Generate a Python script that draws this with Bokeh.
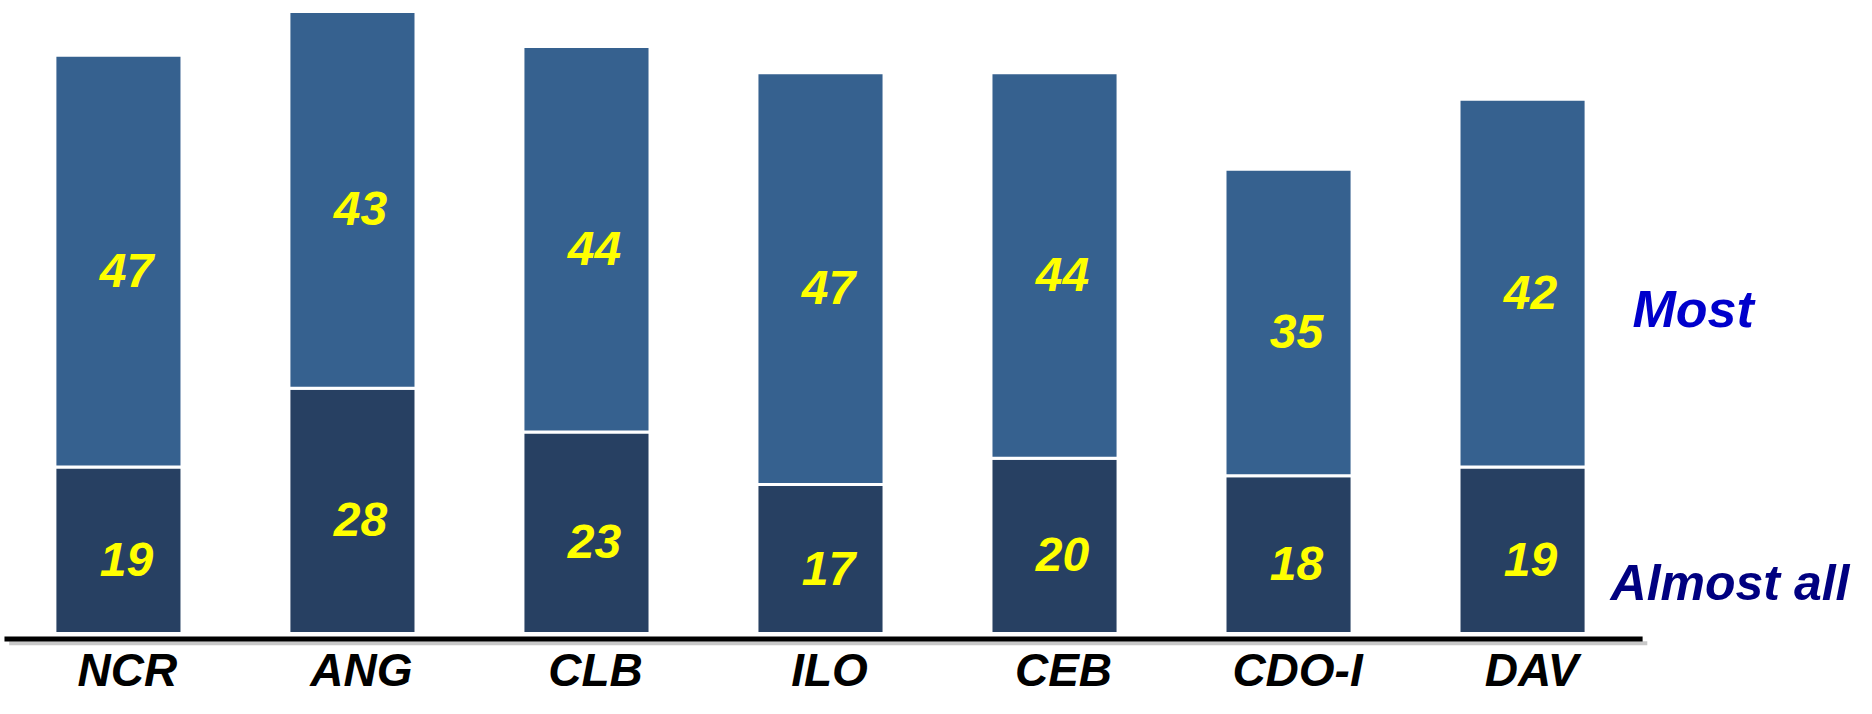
from bokeh.plotting import figure
from bokeh.models import Range1d, ColumnDataSource
from bokeh.core.properties import value
from bokeh.embed import file_html
from bokeh.resources import INLINE

categories = ["NCR", "ANG", "CLB", "ILO", "CEB", "CDO-I", "DAV"]
almost_all = [19, 28, 23, 17, 20, 18, 19]
most = [47, 43, 44, 47, 44, 35, 42]
series_names = ["Most", "Almost all"]

FONT = value("Liberation Sans")
C_MOST = "#36618F"
C_ALL = "#274062"

n = len(categories)
xs = list(range(n))
top_all = almost_all
top_most = [a + m for a, m in zip(almost_all, most)]

src = ColumnDataSource(dict(
    x=xs, cat=categories, a=almost_all, m=most,
    top_all=top_all, top_most=top_most,
    mid_all=[a / 2 for a in almost_all],
    mid_most=[a + m / 2 for a, m in zip(almost_all, most)],
    a_txt=[str(v) for v in almost_all], m_txt=[str(v) for v in most],
    lab_y=[-4.22] * n,
))

W, H = 1856, 698
p = figure(width=W, height=H, output_backend="svg", toolbar_location=None,
           x_range=Range1d(-0.504, 7.427), y_range=Range1d(-7.42, 72.26),
           min_border=0, min_border_left=0, min_border_right=0,
           min_border_top=0, min_border_bottom=0)
p.axis.visible = False
p.grid.visible = False
p.outline_line_color = None
p.background_fill_color = "white"
p.border_fill_color = "white"

bw = 0.543
p.vbar(x="x", bottom=0, top="top_all", width=bw, source=src,
       fill_color=C_ALL, line_color="white", line_width=3)
p.vbar(x="x", bottom="top_all", top="top_most", width=bw, source=src,
       fill_color=C_MOST, line_color="white", line_width=3)

# baseline with shadow
x0, x1 = -0.487, n - 1 + 0.513
p.segment(x0=[x0 + 0.02], y0=[-1.1], x1=[x1 + 0.02], y1=[-1.1],
          line_color="#C8C8C8", line_width=4)
p.segment(x0=[x0], y0=[-0.63], x1=[x1], y1=[-0.63],
          line_color="black", line_width=5)

common = dict(text_font=FONT, text_font_size="48px", text_font_style="bold italic",
              text_align="center", text_baseline="middle")
p.text(x="x", y="mid_most", text="m_txt", source=src, text_color="#FFFF00",
       x_offset=8, y_offset=9, **common)
p.text(x="x", y="mid_all", text="a_txt", source=src, text_color="#FFFF00",
       x_offset=8, y_offset=9, **common)
p.text(x="x", y="lab_y", text="cat", source=src, text_color="black",
       x_offset=9, text_font=FONT, text_font_size="46px",
       text_font_style="bold italic", text_align="center",
       text_baseline="middle")

# series labels
p.text(x=[n - 1 + 0.47], y=[37.1], text=[series_names[0]], text_color="#0000CC",
       text_font=FONT, text_font_size="52px", text_font_style="bold italic",
       text_align="left", text_baseline="middle")
p.text(x=[n - 1 + 0.376], y=[5.82], text=[series_names[1]], text_color="#000080",
       text_font=FONT, text_font_size="50px", text_font_style="bold italic",
       text_align="left", text_baseline="middle")

open("out.html", "w").write(file_html(p, INLINE))
